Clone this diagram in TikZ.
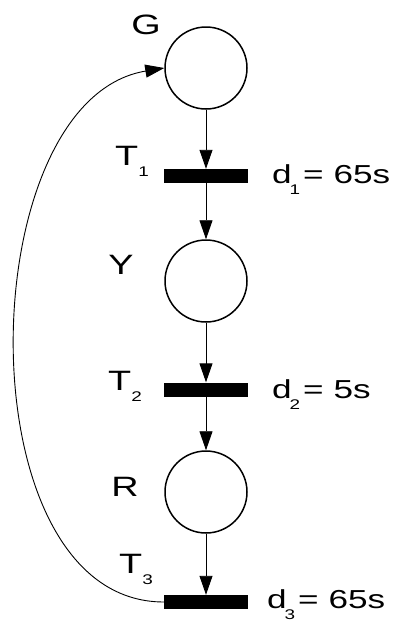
\documentclass[tikz,border=0pt]{standalone}
\usepackage{fontspec}
\setmainfont{Liberation Sans}[FakeStretch=1.35]
\usetikzlibrary{arrows.meta}
\newcommand\subtxt[1]{\raisebox{-11.5pt}{\fontsize{14}{14}\selectfont #1}}
\newcommand\dlab[2]{d\kern-2pt\subtxt{#1}\hspace{3pt}=\hspace{10pt}#2}
\begin{document}
\begin{tikzpicture}[x=1pt,y=-1pt,
  place/.style={circle,draw,line width=1.5pt,minimum size=82pt,inner sep=0pt},
  bar/.style={fill=black,minimum width=84pt,minimum height=14pt,inner sep=0pt},
  arc/.style={-{Triangle[length=19pt,width=13pt]},line width=0.9pt},
  lab/.style={font=\fontsize{28}{28}\selectfont,inner sep=0pt},
  dl/.style={font=\fontsize{26}{26}\selectfont,inner sep=0pt,anchor=base west}]
\useasboundingbox (0,0) rectangle (394,624);
\node[place] (G) at (206,68) {};
\node[bar] (T1) at (206,176) {};
\node[place] (Y) at (206,281) {};
\node[bar] (T2) at (206,389.5) {};
\node[place] (R) at (206,492) {};
\node[bar] (T3) at (206,602) {};
\draw[arc] (G) -- (T1);
\draw[arc] (T1) -- (Y);
\draw[arc] (Y) -- (T2);
\draw[arc] (T2) -- (R);
\draw[arc] (R) -- (T3);
\draw[arc] (T3.west) .. controls (-38,602) and (-30,100) .. (G.west);
\node[lab] (lG) at (146,25) {G};
\node[lab] (lY) at (121,265) {Y};
\node[lab] (lR) at (125,487) {R};
\node[lab,anchor=base west] (lT1) at (115,165) {T\subtxt{1}};
\node[lab,anchor=base west] (lT2) at (108,390) {T\subtxt{2}};
\node[lab,anchor=base west] (lT3) at (119,573) {T\subtxt{3}};
\node[dl] (ld1) at (272,183) {\dlab{1}{65s}};
\node[dl] (ld2) at (272,398) {\dlab{2}{5s}};
\node[dl] (ld3) at (267,608) {\dlab{3}{65s}};
\end{tikzpicture}
\end{document}
